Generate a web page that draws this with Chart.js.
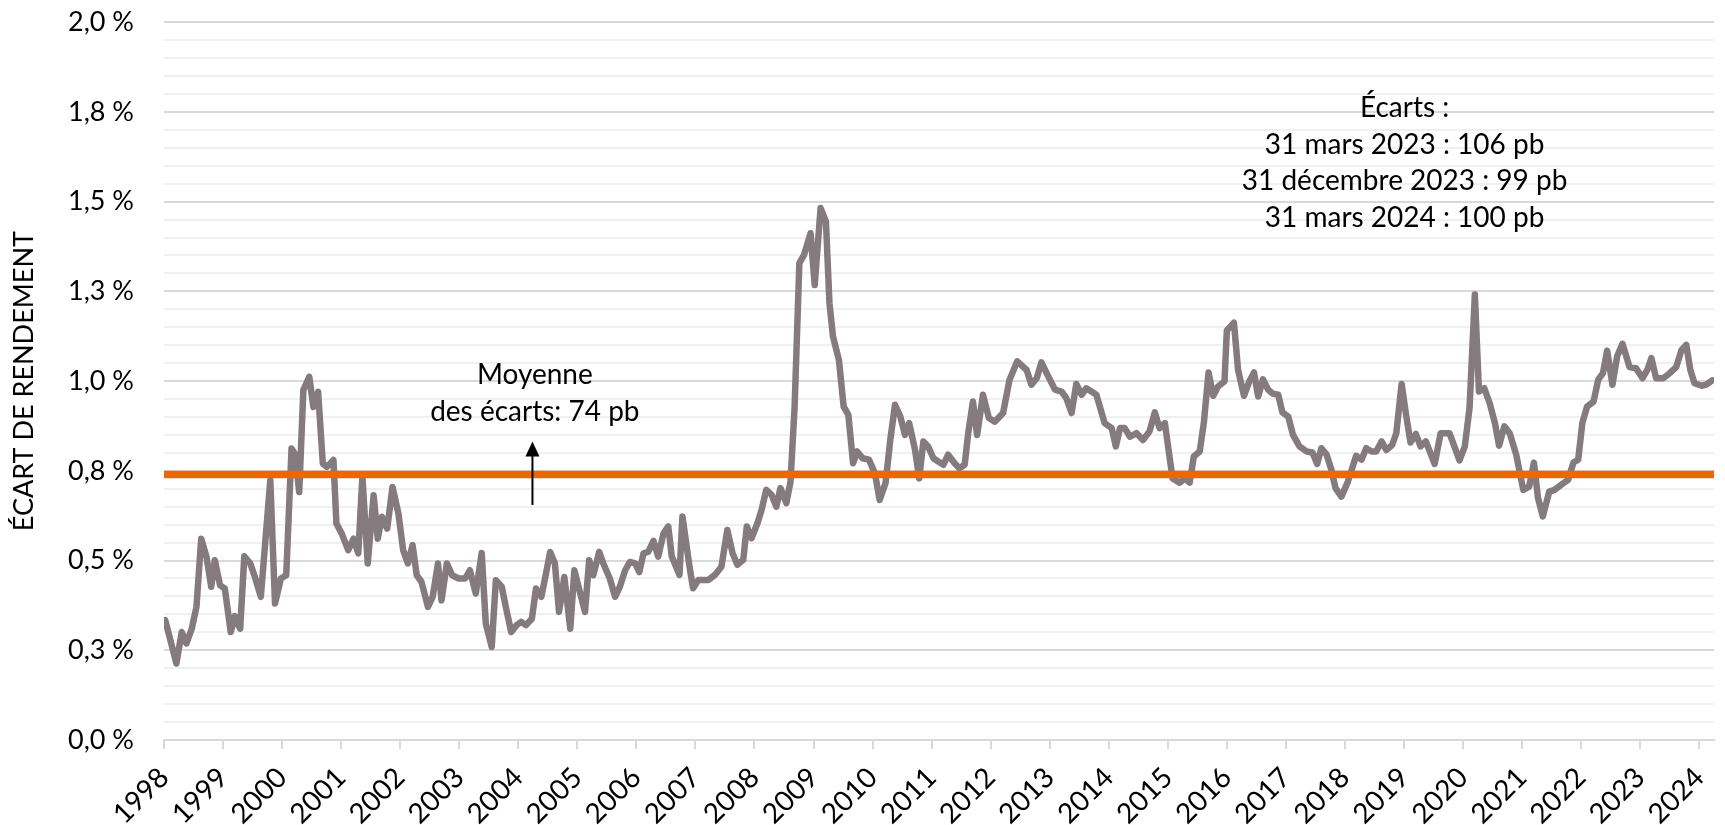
<!DOCTYPE html>
<html lang="fr">
<head>
    <meta charset="UTF-8">
    <title>Écart de rendement</title>
    <script src="https://cdn.jsdelivr.net/npm/chart.js"></script>
    <style>
        body { margin: 0; background: #fff; }
        #wrap { width: 1725px; height: 825px; }
    </style>
</head>
<body>
    <div id="wrap"><canvas id="myChart"></canvas></div>

    <script>
        // dates as decimal years, spread in %
        const dates = [
            1998.02, 1998.21, 1998.30, 1998.38, 1998.47, 1998.55, 1998.63, 1998.72, 1998.80, 1998.86, 1998.95,
            1999.03, 1999.13, 1999.20, 1999.29, 1999.36, 1999.46, 1999.54, 1999.64, 1999.80, 1999.88, 1999.98,
            2000.07, 2000.16, 2000.22, 2000.29, 2000.36, 2000.46, 2000.53, 2000.61, 2000.69, 2000.76, 2000.87, 2000.92,
            2001.01, 2001.12, 2001.21, 2001.29, 2001.36, 2001.45, 2001.55, 2001.62, 2001.69, 2001.78, 2001.87, 2001.97,
            2002.05, 2002.13, 2002.21, 2002.28, 2002.36, 2002.47, 2002.55, 2002.64, 2002.70, 2002.79, 2002.88, 2002.99,
            2003.10, 2003.18, 2003.28, 2003.38, 2003.45, 2003.55, 2003.62, 2003.72, 2003.80, 2003.88, 2003.97,
            2004.05, 2004.13, 2004.23, 2004.30, 2004.39, 2004.47, 2004.54, 2004.62, 2004.69, 2004.78, 2004.88, 2004.95,
            2005.02, 2005.13, 2005.20, 2005.27, 2005.37, 2005.44, 2005.55, 2005.64, 2005.72, 2005.81, 2005.89, 2005.98,
            2006.05, 2006.12, 2006.20, 2006.29, 2006.37, 2006.46, 2006.54, 2006.60, 2006.73, 2006.78, 2006.90, 2006.96,
            2007.05, 2007.22, 2007.33, 2007.44, 2007.54, 2007.63, 2007.71, 2007.81, 2007.87, 2007.95,
            2008.05, 2008.12, 2008.20, 2008.29, 2008.37, 2008.44, 2008.54, 2008.61, 2008.68, 2008.76, 2008.84, 2008.95,
            2009.02, 2009.12, 2009.21, 2009.27, 2009.33, 2009.43, 2009.51, 2009.59, 2009.67, 2009.74, 2009.83, 2009.94,
            2010.04, 2010.12, 2010.22, 2010.30, 2010.38, 2010.47, 2010.55, 2010.62, 2010.72, 2010.79, 2010.86, 2010.94,
            2011.03, 2011.11, 2011.20, 2011.28, 2011.39, 2011.47, 2011.56, 2011.62, 2011.70, 2011.77, 2011.87, 2011.97,
            2012.07, 2012.21, 2012.32, 2012.45, 2012.61, 2012.69, 2012.78, 2012.86, 2012.96,
            2013.09, 2013.20, 2013.28, 2013.37, 2013.45, 2013.54, 2013.62, 2013.79, 2013.93,
            2014.05, 2014.12, 2014.19, 2014.27, 2014.36, 2014.47, 2014.58, 2014.69, 2014.78, 2014.86, 2014.95,
            2015.08, 2015.20, 2015.29, 2015.37, 2015.44, 2015.54, 2015.61, 2015.69, 2015.77, 2015.85, 2015.96,
            2016.00, 2016.12, 2016.19, 2016.29, 2016.38, 2016.46, 2016.53, 2016.61, 2016.70, 2016.78, 2016.87, 2016.94,
            2017.04, 2017.12, 2017.23, 2017.35, 2017.45, 2017.53, 2017.60, 2017.69, 2017.77, 2017.84, 2017.94,
            2018.05, 2018.19, 2018.28, 2018.36, 2018.45, 2018.53, 2018.62, 2018.70, 2018.80, 2018.87, 2018.96,
            2019.04, 2019.11, 2019.20, 2019.28, 2019.37, 2019.52, 2019.62, 2019.77, 2019.94,
            2020.03, 2020.11, 2020.20, 2020.27, 2020.36, 2020.45, 2020.54, 2020.61, 2020.70, 2020.79, 2020.90,
            2021.02, 2021.12, 2021.20, 2021.27, 2021.35, 2021.46, 2021.55, 2021.66, 2021.78, 2021.87, 2021.95,
            2022.02, 2022.10, 2022.21, 2022.29, 2022.37, 2022.44, 2022.53, 2022.61, 2022.70, 2022.82, 2022.93,
            2023.04, 2023.12, 2023.19, 2023.27, 2023.39, 2023.50, 2023.61, 2023.70, 2023.78, 2023.85, 2023.92,
            2024.04, 2024.12, 2024.22
        ];
        const spreads = [
            0.334, 0.213, 0.301, 0.269, 0.310, 0.371, 0.561, 0.510, 0.427, 0.501, 0.431,
            0.422, 0.301, 0.345, 0.310, 0.512, 0.492, 0.454, 0.399, 0.724, 0.380, 0.450,
            0.459, 0.812, 0.796, 0.691, 0.975, 1.012, 0.928, 0.970, 0.770, 0.761, 0.780, 0.603,
            0.575, 0.529, 0.561, 0.520, 0.733, 0.492, 0.682, 0.561, 0.622, 0.589, 0.705, 0.631,
            0.529, 0.492, 0.543, 0.459, 0.441, 0.371, 0.399, 0.492, 0.389, 0.492, 0.459, 0.450,
            0.450, 0.473, 0.408, 0.521, 0.324, 0.259, 0.445, 0.427, 0.362, 0.301, 0.320,
            0.329, 0.320, 0.338, 0.422, 0.399, 0.464, 0.524, 0.492, 0.357, 0.454, 0.310, 0.473,
            0.427, 0.357, 0.501, 0.459, 0.524, 0.492, 0.450, 0.399, 0.427, 0.473, 0.496, 0.492,
            0.468, 0.520, 0.524, 0.555, 0.511, 0.576, 0.595, 0.511, 0.460, 0.623, 0.483, 0.423,
            0.446, 0.446, 0.460, 0.483, 0.585, 0.520, 0.488, 0.502, 0.595, 0.562,
            0.604, 0.641, 0.697, 0.683, 0.650, 0.702, 0.660, 0.720, 0.929, 1.329, 1.352, 1.412,
            1.268, 1.482, 1.445, 1.217, 1.124, 1.059, 0.929, 0.906, 0.771, 0.804, 0.785, 0.781,
            0.743, 0.669, 0.716, 0.836, 0.934, 0.901, 0.850, 0.883, 0.808, 0.729, 0.832, 0.818,
            0.785, 0.776, 0.767, 0.795, 0.771, 0.757, 0.767, 0.855, 0.943, 0.850, 0.962, 0.897,
            0.887, 0.911, 1.004, 1.055, 1.031, 0.990, 1.008, 1.052, 1.018,
            0.976, 0.971, 0.953, 0.911, 0.992, 0.962, 0.980, 0.962, 0.883,
            0.869, 0.818, 0.869, 0.869, 0.845, 0.855, 0.836, 0.860, 0.913, 0.869, 0.883,
            0.729, 0.717, 0.729, 0.717, 0.790, 0.804, 0.883, 1.024, 0.959, 0.985, 0.999,
            1.141, 1.163, 1.031, 0.959, 0.999, 1.024, 0.957, 1.005, 0.976, 0.965, 0.962, 0.913,
            0.901, 0.850, 0.818, 0.804, 0.801, 0.769, 0.813, 0.795, 0.753, 0.702, 0.678,
            0.720, 0.792, 0.781, 0.813, 0.804, 0.804, 0.832, 0.808, 0.822, 0.855, 0.992,
            0.901, 0.829, 0.853, 0.818, 0.832, 0.769, 0.855, 0.855, 0.779,
            0.818, 0.925, 1.241, 0.971, 0.980, 0.939, 0.883, 0.820, 0.874, 0.855, 0.795,
            0.697, 0.706, 0.773, 0.674, 0.623, 0.692, 0.697, 0.711, 0.725, 0.773, 0.781,
            0.883, 0.929, 0.943, 1.004, 1.022, 1.085, 0.990, 1.069, 1.104, 1.039, 1.036,
            1.008, 1.031, 1.064, 1.008, 1.008, 1.022, 1.039, 1.087, 1.101, 1.031, 0.994,
            0.987, 0.990, 1.002
        ];
        const averageSpread = 0.74;
        const yearLabels = ['1998', '1999', '2000', '2001', '2002', '2003', '2004', '2005', '2006',
            '2007', '2008', '2009', '2010', '2011', '2012', '2013', '2014', '2015', '2016',
            '2017', '2018', '2019', '2020', '2021', '2022', '2023', '2024'];
        const yTickLabels = ['0,0 %', '0,3 %', '0,5 %', '0,8 %', '1,0 %', '1,3 %', '1,5 %', '1,8 %', '2,0 %'];
        const averageNote = ['Moyenne', 'des écarts: 74 pb'];
        const spreadNote = ['Écarts :', '31 mars 2023 : 106 pb', '31 décembre 2023 : 99 pb', '31 mars 2024 : 100 pb'];

        const X_MIN = 1998, X_MAX = 2024.25;
        const FONT = 'Lato';

        const isMajor = v => Math.abs(v / 0.25 - Math.round(v / 0.25)) < 1e-6;

        // notes and arrow drawn in data coordinates
        const notesPlugin = {
            id: 'notes',
            afterDraw(chart) {
                const { ctx, scales: { x, y } } = chart;
                ctx.save();
                ctx.fillStyle = '#000';
                ctx.font = '28px ' + FONT;
                ctx.textAlign = 'center';
                ctx.textBaseline = 'middle';

                const mx = x.getPixelForValue(2004.28);
                ctx.fillText(averageNote[0], mx, y.getPixelForValue(1.018));
                ctx.fillText(averageNote[1], mx, y.getPixelForValue(0.915));

                // arrow
                const ax = x.getPixelForValue(2004.24);
                const y0 = y.getPixelForValue(0.655);
                const y1 = y.getPixelForValue(0.832);
                ctx.strokeStyle = '#000';
                ctx.lineWidth = 2;
                ctx.beginPath();
                ctx.moveTo(ax, y0);
                ctx.lineTo(ax, y1 + 12);
                ctx.stroke();
                ctx.beginPath();
                ctx.moveTo(ax, y1);
                ctx.lineTo(ax - 7, y1 + 15);
                ctx.lineTo(ax + 7, y1 + 15);
                ctx.closePath();
                ctx.fill();

                const sx = x.getPixelForValue(2019.01);
                const rows = [1.762, 1.659, 1.557, 1.455];
                spreadNote.forEach((t, i) => ctx.fillText(t, sx, y.getPixelForValue(rows[i])));
                ctx.restore();
            }
        };

        const ctx = document.getElementById('myChart').getContext('2d');
        const myChart = new Chart(ctx, {
            type: 'line',
            data: {
                datasets: [
                    {
                        label: 'Moyenne',
                        data: [{ x: X_MIN, y: averageSpread }, { x: X_MAX, y: averageSpread }],
                        borderColor: '#e8690c',
                        borderWidth: 7.5,
                        borderCapStyle: 'round',
                        pointRadius: 0,
                        order: 0
                    },
                    {
                        label: 'Écart de rendement',
                        data: dates.map((d, i) => ({ x: d, y: spreads[i] })),
                        borderColor: '#857b7e',
                        borderWidth: 6.5,
                        borderJoinStyle: 'round',
                        borderCapStyle: 'round',
                        pointRadius: 0,
                        tension: 0,
                        order: 1
                    }
                ]
            },
            options: {
                responsive: true,
                maintainAspectRatio: false,
                animation: false,
                devicePixelRatio: 1,
                layout: { padding: { top: 0, right: 11, left: 0, bottom: 0 } },
                plugins: {
                    legend: { display: false },
                    tooltip: { enabled: false }
                },
                scales: {
                    x: {
                        type: 'linear',
                        min: X_MIN,
                        max: X_MAX,
                        afterFit: s => {
                            s.height = 85;
                            s.paddingLeft = 0;
                            s.paddingRight = 11;
                        },
                        border: { display: true, color: '#d9d9d9', width: 2 },
                        grid: {
                            drawOnChartArea: false,
                            drawTicks: true,
                            tickLength: 9,
                            color: '#d9d9d9',
                            lineWidth: 2
                        },
                        ticks: {
                            stepSize: 1,
                            includeBounds: false,
                            autoSkip: false,
                            maxRotation: 45,
                            minRotation: 45,
                            padding: 12,
                            color: '#000',
                            font: { family: FONT, size: 28 },
                            callback: v => yearLabels[Math.round(v - X_MIN)]
                        }
                    },
                    y: {
                        min: 0,
                        max: 2,
                        afterFit: s => { s.width = 164; },
                        border: { display: false },
                        grid: {
                            drawTicks: true,
                            tickLength: 24,
                            tickColor: 'rgba(0,0,0,0)',
                            color: c => isMajor(c.tick.value) ? '#d9d9d9' : '#f0f0f0',
                            lineWidth: 2
                        },
                        ticks: {
                            stepSize: 0.05,
                            maxTicksLimit: 100,
                            autoSkip: false,
                            padding: 6,
                            color: '#000',
                            font: { family: FONT, size: 27 },
                            callback: v => isMajor(v) ? yTickLabels[Math.round(v / 0.25)] : ''
                        },
                        title: {
                            display: true,
                            text: 'ÉCART DE RENDEMENT',
                            color: '#000',
                            font: { family: FONT, size: 27 },
                            padding: { top: 8, bottom: 0 }
                        }
                    }
                }
            },
            plugins: [notesPlugin]
        });
    </script>
</body>
</html>
